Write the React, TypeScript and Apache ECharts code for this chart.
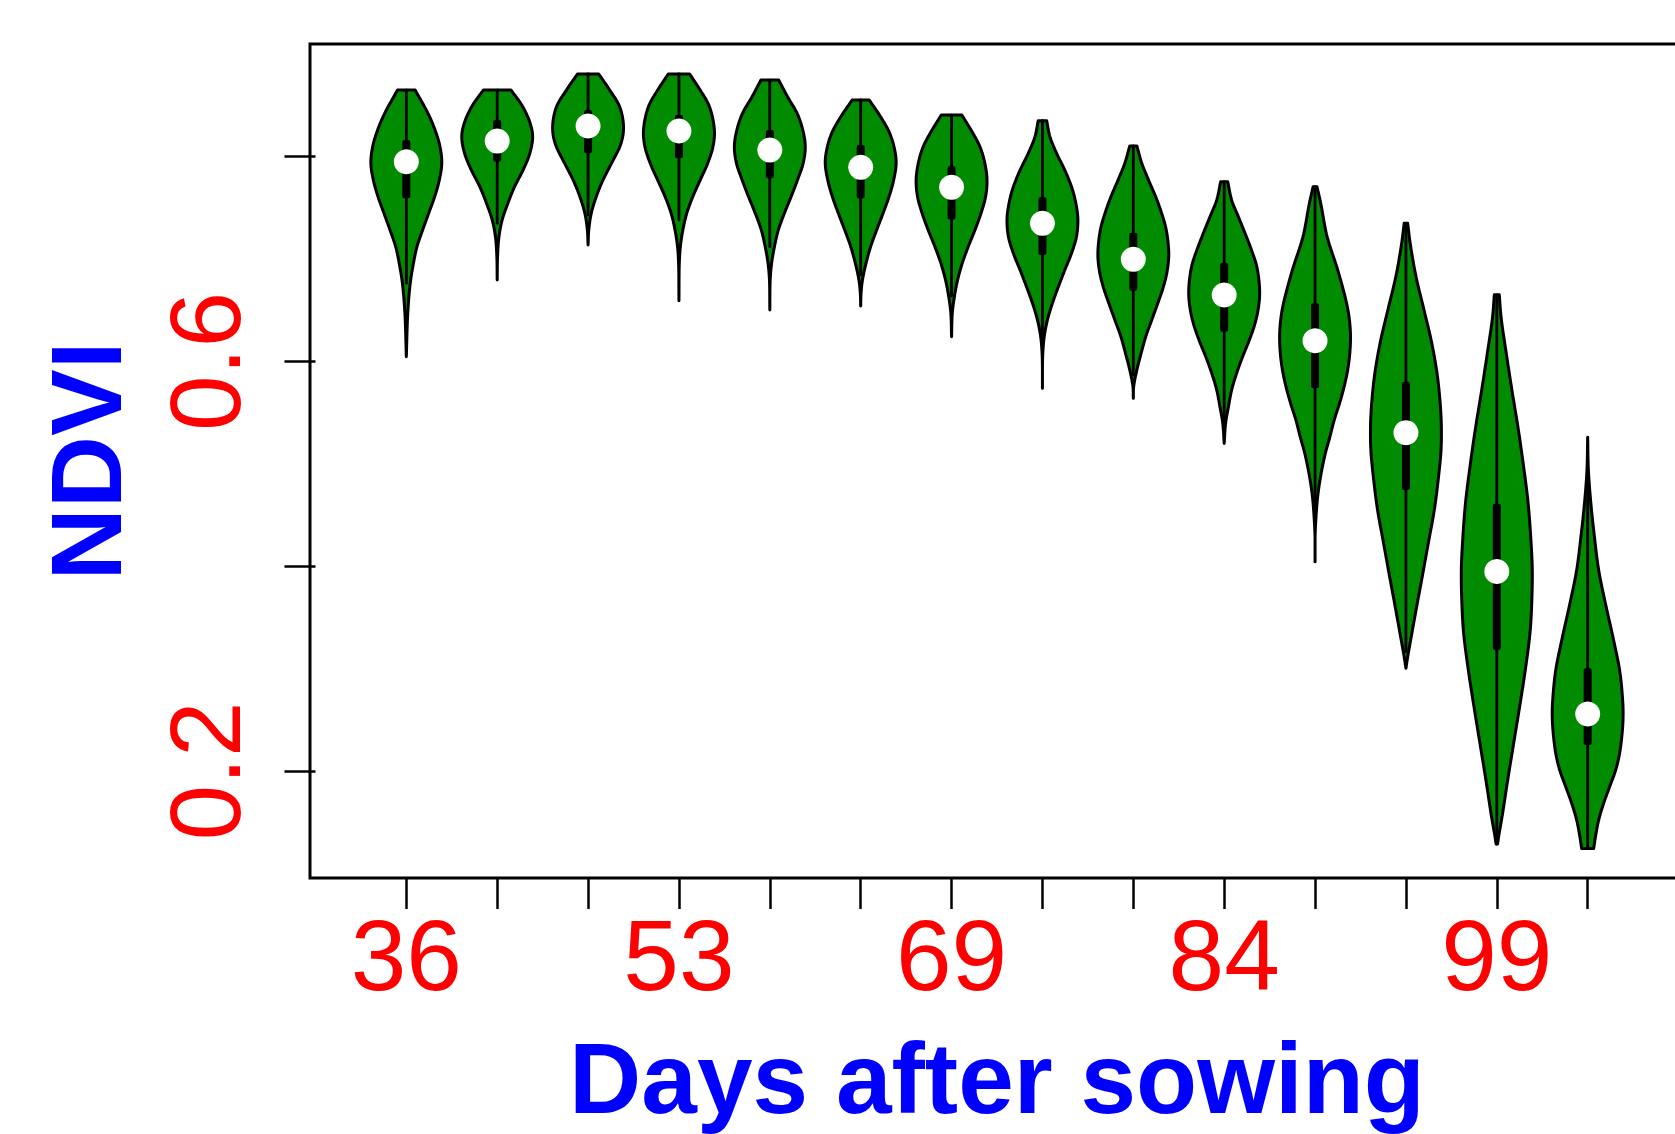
import React, { useEffect, useRef } from "react";
import * as echarts from "echarts";

// ---- data ----
const tickPositions = [1, 2, 3, 4, 5, 6, 7, 8, 9, 10, 11, 12, 13, 14];
const tickLabels = ["36", "", "", "53", "", "", "69", "", "", "84", "", "", "99", ""];
const yTickValues = [0.2, 0.4, 0.6, 0.8];
const yLabelValues = [0.2, 0.6];

const medians = [0.7951, 0.8153, 0.83, 0.8251, 0.8065, 0.7896, 0.7701, 0.7349, 0.6998, 0.6649, 0.6203, 0.5305, 0.3949, 0.2557];
const q3 = [0.8163, 0.8358, 0.8456, 0.8407, 0.8261, 0.8114, 0.7909, 0.7603, 0.7258, 0.6965, 0.6568, 0.5803, 0.461, 0.3003];
const q1 = [0.7594, 0.7951, 0.8033, 0.7984, 0.7789, 0.7593, 0.7388, 0.704, 0.6691, 0.6291, 0.5738, 0.4744, 0.3183, 0.2254];
const whiskerHigh = [0.8651, 0.8651, 0.8808, 0.8808, 0.8749, 0.8554, 0.8407, 0.8352, 0.8105, 0.7756, 0.7707, 0.7349, 0.6651, 0.5044];
const whiskerLow = [0.6763, 0.7349, 0.7431, 0.7382, 0.7121, 0.6845, 0.6639, 0.621, 0.5868, 0.5314, 0.4549, 0.3166, 0.1286, 0.1244];

// density outline: NDVI levels (top -> bottom) and relative half-widths
const profileNdvi = [
  [0.8651, 0.8424, 0.8261, 0.8098, 0.7935, 0.7772, 0.761, 0.7447, 0.7284, 0.7121, 0.6958, 0.6763, 0.647, 0.6047],
  [0.8651, 0.8489, 0.8326, 0.8196, 0.8033, 0.787, 0.7707, 0.7544, 0.7382, 0.7219, 0.7024, 0.6796],
  [0.8808, 0.8651, 0.8489, 0.8293, 0.8131, 0.7935, 0.7772, 0.7609, 0.7447, 0.7284, 0.7138],
  [0.8808, 0.8651, 0.8489, 0.8261, 0.8098, 0.7935, 0.7772, 0.7609, 0.7447, 0.7284, 0.7121, 0.6959, 0.6594],
  [0.8749, 0.8586, 0.8424, 0.8261, 0.8098, 0.7935, 0.7772, 0.7609, 0.7447, 0.7284, 0.7121, 0.6958, 0.6796, 0.6503],
  [0.8554, 0.8391, 0.8228, 0.8066, 0.7935, 0.7772, 0.761, 0.7447, 0.7284, 0.7121, 0.6958, 0.6796, 0.6665, 0.6542],
  [0.8407, 0.8261, 0.8098, 0.7935, 0.7772, 0.761, 0.7447, 0.7284, 0.7121, 0.6958, 0.6796, 0.6633, 0.647, 0.6242],
  [0.8352, 0.8196, 0.8033, 0.787, 0.7675, 0.7512, 0.7382, 0.7219, 0.7056, 0.6893, 0.6731, 0.6568, 0.6405, 0.6242, 0.6079, 0.5917, 0.5738],
  [0.8105, 0.7935, 0.7772, 0.761, 0.7447, 0.7284, 0.7056, 0.6893, 0.6731, 0.6568, 0.6405, 0.6242, 0.6079, 0.5917, 0.5754, 0.564],
  [0.7756, 0.7577, 0.7414, 0.7251, 0.7089, 0.6926, 0.6698, 0.6535, 0.6372, 0.621, 0.6047, 0.5884, 0.5721, 0.5558, 0.5396, 0.52],
  [0.7707, 0.7545, 0.7219, 0.6893, 0.6568, 0.6405, 0.6242, 0.608, 0.5917, 0.5754, 0.5591, 0.5428, 0.5266, 0.5103, 0.494, 0.4777, 0.4614, 0.4289, 0.4045],
  [0.7349, 0.7154, 0.6828, 0.6503, 0.6177, 0.5852, 0.5526, 0.5331, 0.5135, 0.4875, 0.4549, 0.4224, 0.3898, 0.3572, 0.3312, 0.3117, 0.3003],
  [0.6651, 0.6434, 0.6073, 0.5712, 0.5351, 0.4989, 0.4628, 0.4267, 0.3978, 0.3689, 0.3363, 0.3002, 0.2641, 0.228, 0.1918, 0.1557, 0.1377, 0.1286],
  [0.5259, 0.494, 0.4614, 0.4289, 0.3963, 0.3638, 0.3312, 0.2986, 0.2726, 0.2563, 0.24, 0.2172, 0.201, 0.1847, 0.1684, 0.1521, 0.1358, 0.1244],
];
const profileWidth = [
  [0.25, 0.61, 0.81, 0.95, 1.0, 0.93, 0.8, 0.63, 0.46, 0.3, 0.2, 0.11, 0.04, 0.0],
  [0.39, 0.72, 0.93, 1.0, 0.92, 0.73, 0.49, 0.3, 0.14, 0.05, 0.01, 0.0],
  [0.3, 0.61, 0.89, 1.0, 0.93, 0.66, 0.42, 0.23, 0.09, 0.02, 0.0],
  [0.3, 0.6, 0.86, 1.0, 0.96, 0.81, 0.6, 0.39, 0.22, 0.11, 0.04, 0.01, 0.0],
  [0.25, 0.5, 0.77, 0.93, 1.0, 0.94, 0.78, 0.6, 0.41, 0.24, 0.13, 0.05, 0.01, 0.0],
  [0.24, 0.56, 0.82, 0.96, 1.0, 0.93, 0.8, 0.63, 0.45, 0.28, 0.15, 0.05, 0.01, 0.0],
  [0.29, 0.55, 0.8, 0.94, 1.0, 0.96, 0.83, 0.66, 0.47, 0.3, 0.17, 0.08, 0.02, 0.0],
  [0.12, 0.21, 0.4, 0.63, 0.85, 0.96, 1.0, 0.96, 0.82, 0.63, 0.45, 0.28, 0.14, 0.05, 0.01, 0.0, 0.0],
  [0.1, 0.24, 0.43, 0.63, 0.8, 0.93, 1.0, 0.96, 0.85, 0.69, 0.52, 0.35, 0.22, 0.1, 0.01, 0.0],
  [0.1, 0.21, 0.4, 0.59, 0.77, 0.92, 1.0, 0.97, 0.87, 0.71, 0.52, 0.35, 0.21, 0.12, 0.04, 0.0],
  [0.055, 0.16, 0.34, 0.64, 0.89, 0.97, 1.0, 0.98, 0.92, 0.82, 0.69, 0.54, 0.42, 0.29, 0.19, 0.11, 0.055, 0.0, 0.0],
  [0.05, 0.12, 0.285, 0.51, 0.73, 0.89, 0.98, 1.0, 0.99, 0.92, 0.8, 0.63, 0.46, 0.285, 0.15, 0.05, 0.0],
  [0.07, 0.12, 0.27, 0.43, 0.6, 0.75, 0.88, 0.96, 1.0, 0.99, 0.94, 0.81, 0.65, 0.48, 0.31, 0.15, 0.06, 0.02],
  [0.0, 0.02, 0.09, 0.19, 0.31, 0.5, 0.71, 0.9, 0.98, 1.0, 0.98, 0.9, 0.79, 0.62, 0.45, 0.31, 0.22, 0.17],
];

const Y_MIN = 0.0955;
const Y_MAX = 0.9101;
const X_MIN = -0.06;
const X_MAX = 15.06;

// centripetal Catmull-Rom curve through the outline knots (pixel space), for drawing only
function smoothThrough(pts: number[][], steps: number): number[][] {
  const out: number[][] = [];
  const n = pts.length;
  const dist = (a: number[], b: number[]) => Math.max(1e-3, Math.sqrt(Math.hypot(b[0] - a[0], b[1] - a[1])));
  for (let i = 0; i < n - 1; i++) {
    const p1 = pts[i];
    const p2 = pts[i + 1];
    const p0 = i > 0 ? pts[i - 1] : [2 * p1[0] - p2[0], 2 * p1[1] - p2[1]];
    const p3 = i + 2 < n ? pts[i + 2] : [2 * p2[0] - p1[0], 2 * p2[1] - p1[1]];
    const t0 = 0;
    const t1 = t0 + dist(p0, p1);
    const t2 = t1 + dist(p1, p2);
    const t3 = t2 + dist(p2, p3);
    for (let s = 0; s < steps; s++) {
      const t = t1 + ((t2 - t1) * s) / steps;
      const lerp = (a: number[], b: number[], ta: number, tb: number) => {
        const u = (t - ta) / (tb - ta);
        return [a[0] + (b[0] - a[0]) * u, a[1] + (b[1] - a[1]) * u];
      };
      const a1 = lerp(p0, p1, t0, t1);
      const a2 = lerp(p1, p2, t1, t2);
      const a3 = lerp(p2, p3, t2, t3);
      const b1 = lerp(a1, a2, t0, t2);
      const b2 = lerp(a2, a3, t1, t3);
      out.push(lerp(b1, b2, t1, t2));
    }
  }
  out.push(pts[n - 1]);
  return out;
}

export default function App() {
  const ref = useRef<HTMLDivElement>(null);

  useEffect(() => {
    if (!ref.current) return;
    const chart = echarts.init(ref.current, null, { renderer: "svg" });
    const font = '"Liberation Sans", Arial, Helvetica, sans-serif';

    const option: any = {
      animation: false,
      backgroundColor: "#ffffff",
      grid: {
        left: 310,
        top: 44,
        width: 1374,
        height: 834,
        show: true,
        borderColor: "#000",
        borderWidth: 3,
        backgroundColor: "transparent",
      },
      xAxis: {
        type: "value",
        min: X_MIN,
        max: X_MAX,
        axisLine: { show: false },
        splitLine: { show: false },
        axisTick: {
          show: true,
          customValues: tickPositions,
          length: 31,
          lineStyle: { color: "#000", width: 2.5 },
        },
        axisLabel: {
          customValues: tickPositions.filter((_, i) => tickLabels[i] !== ""),
          formatter: (v: number) => tickLabels[Math.round(v) - 1],
          color: "#ff0000",
          fontSize: 100,
          fontFamily: font,
          margin: 27,
        },
      },
      yAxis: {
        type: "value",
        min: Y_MIN,
        max: Y_MAX,
        axisLine: { show: false },
        splitLine: { show: false },
        axisTick: {
          show: true,
          customValues: yTickValues,
          length: 31,
          lineStyle: { color: "#000", width: 2.5 },
        },
        axisLabel: {
          customValues: yLabelValues,
          formatter: (v: number) => v.toFixed(1),
          rotate: 90,
          color: "#ff0000",
          fontSize: 100,
          fontFamily: font,
          margin: 55,
        },
      },
      graphic: [
        {
          type: "text",
          x: 86,
          y: 461,
          rotation: Math.PI / 2,
          style: {
            text: "NDVI",
            fill: "#0000ff",
            font: "bold 100px " + font,
            align: "center",
            verticalAlign: "middle",
          },
        },
        {
          type: "text",
          x: 997,
          y: 1078,
          style: {
            text: "Days after sowing",
            fill: "#0000ff",
            font: "bold 100px " + font,
            align: "center",
            verticalAlign: "middle",
          },
        },
      ],
      series: [
        {
          type: "custom",
          clip: false,
          data: medians.map((m, i) => [i, m]),
          renderItem: (params: any, api: any) => {
            const i = api.value(0) as number;
            const x = i + 1;
            const unit = api.size([1, 0])[0];
            const half = 0.39 * unit;
            const ys = profileNdvi[i];
            const ws = profileWidth[i];
            const cx = api.coord([x, medians[i]])[0];
            const knots = ys.map((v, k) => [cx - ws[k] * half, api.coord([x, v])[1]]);
            const leftSide = smoothThrough(knots, 10).map((p) => [Math.min(p[0], cx), p[1]]);
            const rightSide = leftSide.map((p) => [2 * cx - p[0], p[1]]).reverse();
            const outline = leftSide.concat(rightSide);

            const wTop = api.coord([x, whiskerHigh[i]]);
            const wBot = api.coord([x, whiskerLow[i]]);
            const bTop = api.coord([x, q3[i]]);
            const bBot = api.coord([x, q1[i]]);
            const med = api.coord([x, medians[i]]);
            const boxW = 8;

            return {
              type: "group",
              children: [
                {
                  type: "polygon",
                  shape: { points: outline },
                  style: { fill: "#008b00", stroke: "#000", lineWidth: 3, lineJoin: "round" },
                },
                {
                  type: "line",
                  shape: { x1: cx, y1: wTop[1], x2: cx, y2: wBot[1] },
                  style: { stroke: "#000", lineWidth: 2.8, lineCap: "round" },
                },
                {
                  type: "rect",
                  shape: { x: cx - boxW / 2, y: bTop[1], width: boxW, height: bBot[1] - bTop[1], r: 2 },
                  style: { fill: "#000" },
                },
                {
                  type: "circle",
                  shape: { cx: med[0], cy: med[1], r: 12.5 },
                  style: { fill: "#ffffff" },
                },
              ],
            };
          },
        },
      ],
    };

    chart.setOption(option);
    return () => chart.dispose();
  }, []);

  return (
    <div
      style={{
        position: "fixed",
        left: 0,
        top: 0,
        width: 1675,
        height: 1134,
        overflow: "hidden",
        background: "#fff",
      }}
    >
      <div ref={ref} style={{ width: 1700, height: 1134 }} />
    </div>
  );
}
